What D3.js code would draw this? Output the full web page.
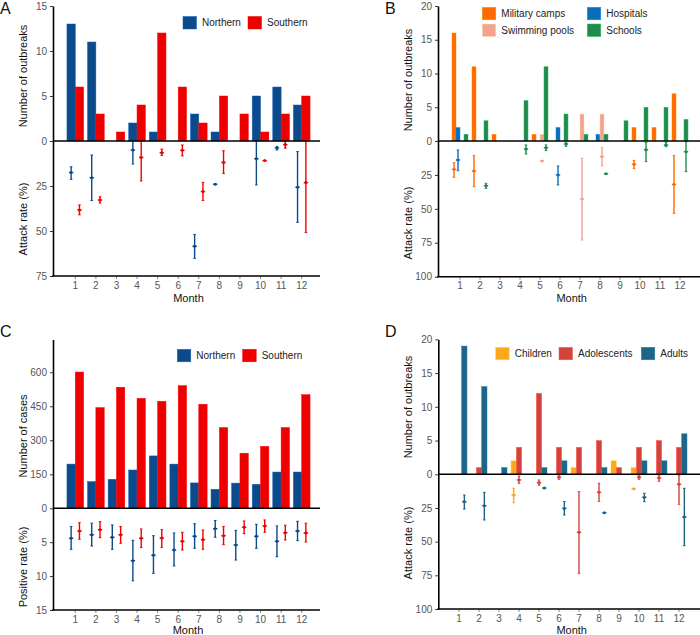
<!DOCTYPE html>
<html><head><meta charset="utf-8">
<script src="https://cdn.jsdelivr.net/npm/d3@7"></script>
<style>
body{margin:0;background:#fff}
svg{display:block}
text{font-family:"Liberation Sans",Arial,Helvetica,sans-serif}
</style>
</head><body>
<svg id="chart" width="700" height="635"></svg>
<script>
// ---------------- DATA ----------------
const months = [1,2,3,4,5,6,7,8,9,10,11,12];

// Panel A: outbreaks by region
const regionKeys = ["Northern","Southern"];
const aNorthernOutbreaks = [13,11,0,2,1,0,3,1,0,5,6,4];
const aSouthernOutbreaks = [6,3,1,4,12,6,2,5,3,1,3,5];
const aNorthernAttackMid = [17.5,20.4,null,5,null,null,58.5,24,null,9.8,3.9,25.7];
const aNorthernAttackLo  = [14.3,7.8,null,0,null,null,51.9,24,null,0,3,5.9];
const aNorthernAttackHi  = [21.3,33.1,null,12.8,null,null,65.2,24,null,24.4,5,45.2];
const aSouthernAttackMid = [38.3,32.8,null,9.1,6.5,5.2,28.1,11.9,null,10.9,2,23.1];
const aSouthernAttackLo  = [35.5,31,null,0,4.5,2.2,23,5.4,null,10.9,0,0];
const aSouthernAttackHi  = [41,34.5,null,22.2,8,8.3,33.1,18,null,10.9,4,50.9];

// Panel B: outbreaks by setting
const settingKeys = ["Military camps","Hospitals","Swimming pools","Schools"];
const bMilitary  = [16,11,1,0,1,0,0,0,0,2,2,7];
const bHospitals = [2,0,0,0,0,2,0,1,0,0,0,0];
const bPools     = [0,0,0,0,1,0,4,4,0,0,0,0];
const bSchools   = [1,3,0,6,11,4,1,1,3,5,5,3.2];
const bMilitaryMid = [20.9,22.1,null,null,null,null,null,null,null,17.2,null,32];
const bMilitaryLo  = [16,10.8,null,null,null,null,null,null,null,14.3,null,10.8];
const bMilitaryHi  = [26.7,33.7,null,null,null,null,null,null,null,20.4,null,53.3];
const bHospitalsMid = [14,null,null,null,null,25,null,null,null,null,null,null];
const bHospitalsLo  = [6.6,null,null,null,null,18.4,null,null,null,null,null,null];
const bHospitalsHi  = [21.9,null,null,null,null,32.4,null,null,null,null,null,null];
const bPoolsMid = [null,null,null,null,14.7,null,42.7,11.5,null,null,null,null];
const bPoolsLo  = [null,null,null,null,14.7,null,12.8,4.9,null,null,null,null];
const bPoolsHi  = [null,null,null,null,14.7,null,73,18.2,null,null,null,null];
const bSchoolsMid = [null,32.9,null,5.9,4.9,2.2,null,24.1,null,6.4,3,7.9];
const bSchoolsLo  = [null,31.2,null,2.9,2.9,1.3,null,24.1,null,1,1,0.5];
const bSchoolsHi  = [null,34.9,null,9.6,7.1,3.9,null,24.1,null,15.2,4.2,22.6];

// Panel C: cases by region
const cNorthernCases = [195,118,128,169,231,195,112,84,111,106,160,160];
const cSouthernCases = [601,444,534,485,472,541,459,356,243,273,356,501];
const cNorthernPosMid = [4.43,3.9,4.28,7.72,6.93,6.15,4.13,3.0,5.41,4.13,4.87,3.35];
const cNorthernPosLo  = [2.7,2.2,2.46,4.72,4.04,3.64,2.27,1.8,3.25,2.36,2.6,1.92];
const cNorthernPosHi  = [6.05,5.56,6.05,10.7,9.6,8.5,5.9,4.28,7.63,5.9,7.14,4.78];
const cSouthernPosMid = [3.35,3.15,3.9,4.43,4.38,4.87,4.63,4.04,2.8,2.6,3.6,3.64];
const cSouthernPosLo  = [2.12,1.97,2.7,3.05,3.15,3.54,3.2,2.7,1.87,1.72,2.5,2.2];
const cSouthernPosHi  = [4.57,4.33,5.16,5.8,5.75,6.15,6.05,5.36,3.74,3.54,4.67,4.97];

// Panel D: outbreaks by age group
const ageKeys = ["Children","Adolescents","Adults"];
const dChildren    = [0,0,0,2,0,0,1,0,2,1,0,0];
const dAdolescents = [0,1,0,4,12,4,4,5,1,4,5,4];
const dAdults      = [19,13,1,0,1,2,0,1,0,2,2,6];
const dChildrenMid = [null,null,null,15.4,null,null,null,null,null,10.7,null,null];
const dChildrenLo  = [null,null,null,10.4,null,null,null,null,null,10.7,null,null];
const dChildrenHi  = [null,null,null,21.1,null,null,null,null,null,10.7,null,null];
const dAdolescentsMid = [null,null,null,4.2,6.2,2.2,43.1,13.4,null,2.2,2.7,7.4];
const dAdolescentsLo  = [null,null,null,1.3,4.2,0.7,12.9,6.7,null,0.7,1,0.5];
const dAdolescentsHi  = [null,null,null,6.7,8.2,3.7,73.5,20.1,null,3.7,5.2,22.3];
const dAdultsMid = [20.3,23.3,null,null,10.2,25.3,null,28.5,null,17.1,null,31.7];
const dAdultsLo  = [15.4,13.4,null,null,10.2,20.3,null,28.5,null,14.1,null,10.4];
const dAdultsHi  = [25.8,33.9,null,null,10.2,30.2,null,28.5,null,20.3,null,53];

// Tick labels
const outbreakTicks15 = [0,5,10,15];
const outbreakTicks20 = [0,5,10,15,20];
const attackTicks75 = [25,50,75];
const attackTicks100 = [25,50,75,100];
const caseTicks = [0,150,300,450,600];
const posTicks = [5,10,15];

// ---------------- DRAWING ----------------
const svg = d3.select("#chart");
svg.append("rect").attr("width",700).attr("height",635).attr("fill","#fff");

const regionColors = {"Northern":"#0B4A8B","Southern":"#EE0000"};
const settingColors = {"Military camps":"#FF6A00","Hospitals":"#0A6DB8","Swimming pools":"#F2A38B","Schools":"#238A4D"};
const ageColors = {"Children":"#FCA71E","Adolescents":"#D2433B","Adults":"#1C6587"};

function drawPanel(p){
  const g = svg.append("g");
  const x0 = d3.scaleBand().domain(months).range(p.xRange).paddingInner(p.pad).paddingOuter(p.pad/2);
  const x1 = d3.scaleBand().domain(p.keys).range([0, x0.bandwidth()]);
  const yTop = d3.scaleLinear().domain([0, p.topMax]).range([p.zeroY, p.topY]);
  const yBot = d3.scaleLinear().domain([0, p.botMax]).range([p.zeroY, p.botY]);

  // bars
  p.keys.forEach((k,i)=>{
    const data = p.bars[i].map((v,j)=>({m:months[j], v:v})).filter(d=>d.v>0);
    g.append("g").selectAll("rect").data(data).join("rect")
      .attr("x", d=>x0(d.m)+x1(k))
      .attr("width", x1.bandwidth())
      .attr("y", d=>yTop(d.v))
      .attr("height", d=>yTop(0)-yTop(d.v))
      .attr("fill", p.colors[k])
      .attr("stroke", d3.color(p.colors[k]).brighter(0.8))
      .attr("stroke-width", 0.5);
  });

  // error bars (downward)
  p.keys.forEach((k,i)=>{
    const e = p.errs[i];
    const data = months.map((m,j)=>({m:m, mid:e[0][j], lo:e[1][j], hi:e[2][j]})).filter(d=>d.mid!=null);
    const cx = d=>x0(d.m)+x1(k)+x1.bandwidth()/2;
    const eg = g.append("g").attr("stroke", p.colors[k]).attr("fill", p.colors[k]);
    eg.selectAll("line.v").data(data.filter(d=>d.hi>d.lo)).join("line")
      .attr("x1",cx).attr("x2",cx).attr("y1",d=>yBot(d.lo)).attr("y2",d=>yBot(d.hi))
      .attr("stroke-width",1.4);
    eg.selectAll("line.c1").data(data.filter(d=>d.hi>d.lo)).join("line")
      .attr("x1",d=>cx(d)-1.3).attr("x2",d=>cx(d)+1.3).attr("y1",d=>yBot(d.lo)).attr("y2",d=>yBot(d.lo))
      .attr("stroke-width",1);
    eg.selectAll("line.c2").data(data.filter(d=>d.hi>d.lo)).join("line")
      .attr("x1",d=>cx(d)-1.3).attr("x2",d=>cx(d)+1.3).attr("y1",d=>yBot(d.hi)).attr("y2",d=>yBot(d.hi))
      .attr("stroke-width",1);
    eg.selectAll("line.m").data(data).join("line")
      .attr("x1",d=>cx(d)-2.2).attr("x2",d=>cx(d)+2.2).attr("y1",d=>yBot(d.mid)).attr("y2",d=>yBot(d.mid))
      .attr("stroke-width",1.3);
    eg.selectAll("circle").data(data).join("circle")
      .attr("cx",cx).attr("cy",d=>yBot(d.mid)).attr("r",1.5).attr("stroke","none");
  });

  // y axes
  const axT = g.append("g").attr("transform",`translate(${p.axisX},0)`)
    .call(d3.axisLeft(yTop).tickValues(p.topTicks).tickSize(3).tickSizeOuter(0).tickPadding(3));
  const axB = g.append("g").attr("transform",`translate(${p.axisX},0)`)
    .call(d3.axisLeft(yBot).tickValues(p.botTicks).tickSize(3).tickSizeOuter(0).tickPadding(3));
  [axT,axB].forEach(a=>{
    a.select(".domain").attr("stroke","#000").attr("stroke-width",1.6);
    a.selectAll(".tick line").attr("stroke","#333");
    a.selectAll(".tick text").attr("fill","#555").attr("font-size",10)
      .attr("font-family",'"Liberation Sans",Arial,sans-serif');
  });

  // x axis (month ticks and labels)
  const axX = g.append("g").attr("transform",`translate(0,${p.botY})`)
    .call(d3.axisBottom(x0).tickSize(3).tickSizeOuter(0).tickPadding(2.5));
  axX.select(".domain").remove();
  axX.selectAll(".tick line").attr("stroke","#888");
  axX.selectAll(".tick text").attr("fill","#555").attr("font-size",10)
    .attr("font-family",'"Liberation Sans",Arial,sans-serif');

  // zero line and bottom line
  g.append("line").attr("x1",p.axisX).attr("x2",p.rightX).attr("y1",p.zeroY).attr("y2",p.zeroY)
    .attr("stroke","#000").attr("stroke-width",1.6);
  g.append("line").attr("x1",p.axisX-0.8).attr("x2",p.rightX).attr("y1",p.botY).attr("y2",p.botY)
    .attr("stroke","#000").attr("stroke-width",1.6);

  // titles
  g.append("text").attr("transform",`translate(${p.titleX},${p.topTitleY}) rotate(-90)`)
    .attr("text-anchor","middle").attr("dy","0.35em").attr("font-size",11).attr("fill","#111").text(p.topTitle);
  g.append("text").attr("transform",`translate(${p.titleX},${p.botTitleY}) rotate(-90)`)
    .attr("text-anchor","middle").attr("dy","0.35em").attr("font-size",11).attr("fill","#111").text(p.botTitle);
  g.append("text").attr("x",p.monthX).attr("y",p.monthY).attr("text-anchor","middle")
    .attr("font-size",11).attr("fill","#111").text("Month");
  g.append("text").attr("x",p.labelX).attr("y",p.labelY).attr("font-size",16).attr("fill","#111").text(p.label);

  // legend
  p.legend.forEach(l=>{
    g.append("rect").attr("x",l.x).attr("y",l.y).attr("width",13.5).attr("height",12.5)
      .attr("fill",p.colors[l.key]).attr("stroke",d3.color(p.colors[l.key]).brighter(0.8)).attr("stroke-width",0.5);
    g.append("text").attr("x",l.x+19).attr("y",l.y+6.3).attr("dy","0.35em")
      .attr("font-size",10).attr("fill","#222").text(l.key);
  });
}

drawPanel({
  label:"A", labelX:0, labelY:14,
  keys: regionKeys, colors: regionColors,
  bars: [aNorthernOutbreaks, aSouthernOutbreaks],
  errs: [[aNorthernAttackMid,aNorthernAttackLo,aNorthernAttackHi],[aSouthernAttackMid,aSouthernAttackLo,aSouthernAttackHi]],
  xRange:[65,312], pad:0.19, axisX:53, rightX:320,
  zeroY:141, topY:6, botY:276, topMax:15, botMax:75,
  topTicks: outbreakTicks15, botTicks: attackTicks75,
  titleX:23, topTitle:"Number of outbreaks", topTitleY:76, botTitle:"Attack rate (%)", botTitleY:219,
  monthX:188.5, monthY:301.5,
  legend:[{key:"Northern",x:183,y:16.5},{key:"Southern",x:248,y:16.5}]
});

drawPanel({
  label:"B", labelX:385, labelY:14,
  keys: settingKeys, colors: settingColors,
  bars: [bMilitary, bHospitals, bPools, bSchools],
  errs: [[bMilitaryMid,bMilitaryLo,bMilitaryHi],[bHospitalsMid,bHospitalsLo,bHospitalsHi],
         [bPoolsMid,bPoolsLo,bPoolsHi],[bSchoolsMid,bSchoolsLo,bSchoolsHi]],
  xRange:[450,690], pad:0.2, axisX:438, rightX:700,
  zeroY:141, topY:6, botY:276.7, topMax:20, botMax:100,
  topTicks: outbreakTicks20, botTicks: attackTicks100,
  titleX:408, topTitle:"Number of outbreaks", topTitleY:80, botTitle:"Attack rate (%)", botTitleY:223,
  monthX:571.7, monthY:301.5,
  legend:[{key:"Military camps",x:482.3,y:7.3},{key:"Hospitals",x:587.3,y:7.3},
          {key:"Swimming pools",x:482.3,y:24},{key:"Schools",x:587.3,y:24}]
});

drawPanel({
  label:"C", labelX:0, labelY:337,
  keys: regionKeys, colors: regionColors,
  bars: [cNorthernCases, cSouthernCases],
  errs: [[cNorthernPosMid,cNorthernPosLo,cNorthernPosHi],[cSouthernPosMid,cSouthernPosLo,cSouthernPosHi]],
  xRange:[65,312], pad:0.19, axisX:53, rightX:320,
  zeroY:508.3, topY:339.4, botY:610, topMax:745, botMax:15,
  topTicks: caseTicks, botTicks: posTicks,
  titleX:23, topTitle:"Number of cases", topTitleY:436, botTitle:"Positive rate (%)", botTitleY:567,
  monthX:188, monthY:634,
  legend:[{key:"Northern",x:177.3,y:349.3},{key:"Southern",x:242.7,y:349.3}]
});

drawPanel({
  label:"D", labelX:385, labelY:337,
  keys: ageKeys, colors: ageColors,
  bars: [dChildren, dAdolescents, dAdults],
  errs: [[dChildrenMid,dChildrenLo,dChildrenHi],[dAdolescentsMid,dAdolescentsLo,dAdolescentsHi],
         [dAdultsMid,dAdultsLo,dAdultsHi]],
  xRange:[449,689], pad:0.2, axisX:438.3, rightX:700,
  zeroY:474.3, topY:339.3, botY:609, topMax:20, botMax:100,
  topTicks: outbreakTicks20, botTicks: attackTicks100,
  titleX:408, topTitle:"Number of outbreaks", topTitleY:407, botTitle:"Attack rate (%)", botTitleY:543,
  monthX:571.7, monthY:634,
  legend:[{key:"Children",x:495.7,y:347.3},{key:"Adolescents",x:559,y:347.3},{key:"Adults",x:641.3,y:347.3}]
});
</script>
</body></html>
